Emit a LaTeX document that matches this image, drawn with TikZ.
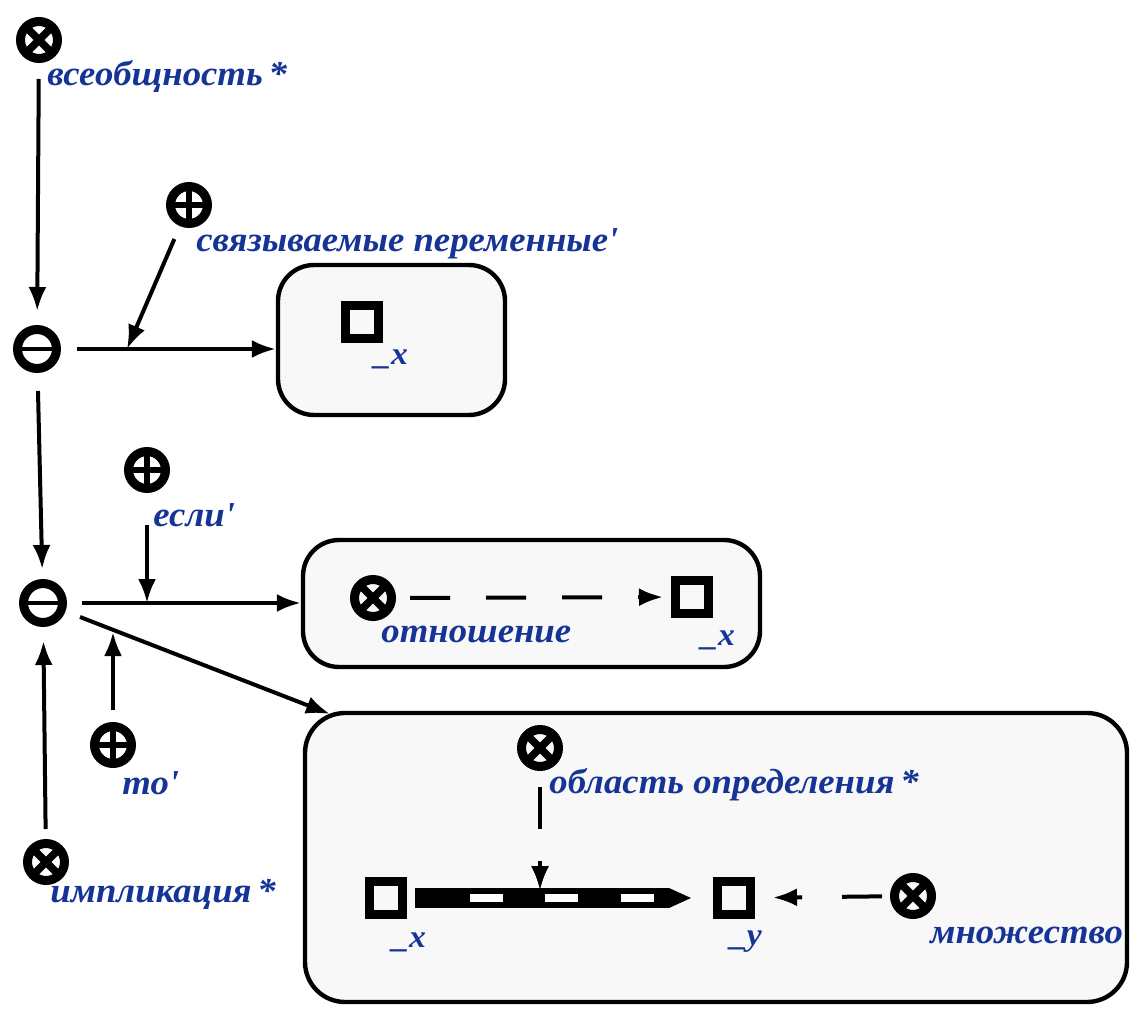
\documentclass[tikz,border=0pt]{standalone}
\usepackage{fontspec}
\setmainfont{Liberation Serif}
\newfontfamily\lblfont{Liberation Serif}[FakeStretch=1.05]
\usetikzlibrary{arrows.meta,calc}
\definecolor{lblblue}{RGB}{22,52,150}
\definecolor{boxfill}{RGB}{248,248,248}
\begin{document}
\begin{tikzpicture}[x=0.5pt,y=-0.5pt,
  conn/.style={line width=2pt,-{Latex[length=12pt,width=9pt]}},
  ring/.style={circle,draw,line width=4.5pt,minimum size=18.5pt,inner sep=0pt},
  xsign/.style={ring,path picture={\draw[line width=3.8pt]
      (path picture bounding box.north west) -- (path picture bounding box.south east)
      (path picture bounding box.north east) -- (path picture bounding box.south west);}},
  psign/.style={ring,path picture={\draw[line width=3pt]
      (path picture bounding box.north) -- (path picture bounding box.south)
      (path picture bounding box.east) -- (path picture bounding box.west);}},
  tsign/.style={ring,minimum size=19.5pt,path picture={\draw[line width=2pt]
      (path picture bounding box.east) -- (path picture bounding box.west);}},
  sq/.style={rectangle,draw,line width=4.5pt,minimum size=16.5pt,inner sep=0pt},
  lbl/.style={anchor=west,inner sep=0pt,text=lblblue,font=\lblfont\bfseries\itshape\fontsize{17.5}{20}\selectfont},
  var/.style={inner sep=0pt,text=lblblue,font=\lblfont\bfseries\itshape\fontsize{16}{18}\selectfont},
  rbox/.style={rectangle,rounded corners=18pt,draw,line width=2.2pt,fill=boxfill,inner sep=0pt}
]
\useasboundingbox (0,0) rectangle (1134,1010);

% frames
\node[rbox,minimum width=113.5pt,minimum height=75pt] (box1) at (391.5,340) {};
\node[rbox,minimum width=228.5pt,minimum height=63.5pt] (box2) at (531.5,603.5) {};
\node[rbox,minimum width=411pt,minimum height=144.5pt,rounded corners=20pt] (box3) at (716,857.5) {};

% outer column of nodes
\node[xsign] (A) at (39,40) {};
\node[lbl] (Al) at (47,76) {всеобщность\,*};
\node[tsign] (B) at (37,349) {};
\node[psign] (C) at (189,205) {};
\node[lbl] (Cl) at (196,244) {связываемые переменные'};
\node[tsign] (D) at (43,603) {};
\node[psign] (E) at (147,470) {};
\node[lbl] (El) at (153,515) {если'};
\node[psign] (F) at (113,745) {};
\node[lbl] (Fl) at (122,783) {то'};
\node[xsign] (G) at (46,862) {};
\node[lbl] (Gl) at (50,894) {импликация\,*};

% contents of the first frame
\node[sq] (s1) at (362,322) {};
\node[var] (s1l) at (391,359) {\_x};

% contents of the second frame
\node[xsign] (R) at (373,598) {};
\node[lbl] (Rl) at (381,634) {отношение};
\node[sq] (s2) at (692,597) {};
\node[var] (s2l) at (718,640) {\_x};

% contents of the third frame
\node[xsign] (O) at (540,748) {};
\node[lbl] (Ol) at (549,785) {область определения\,*};
\node[sq] (s3) at (386,898) {};
\node[var] (s3l) at (409,942) {\_x};
\node[sq] (s4) at (734,898) {};
\node[var] (s4l) at (746,942) {\_y};
\node[xsign] (M) at (913,896) {};
\node[lbl] (Ml) at (930,935) {множество};

% start and junction points of the connectors
\coordinate (bs) at ($(B)+(40,0)$);
\coordinate (ds) at ($(D)+(39,0)$);
\coordinate (dd) at ($(D)+(37,14)$);
\coordinate (j1) at (127,349);
\coordinate (j2) at (147,603);
\coordinate (j3) at (113,632);
\coordinate (b3) at (330,714);
\coordinate (jb) at (540,890);

% connectors
\draw[conn,shorten <=8pt,shorten >=7pt] (A) -- (B);
\draw[conn,shorten <=9pt,shorten >=5pt] (B) -- (D);
\draw[conn] (bs) -- (bs -| box1.west);
\draw[conn,shorten <=7pt] (C) -- (j1);
\draw[conn] (ds) -- (ds -| box2.west);
\draw[conn,shorten <=16pt] (E) -- (j2);
\draw[conn] (dd) -- (b3);
\draw[conn,shorten <=6pt] (F) -- (j3);
\draw[conn,shorten <=5pt,shorten >=7pt] (G) -- (D);

% dashed links inside the frames
\draw[conn,dash pattern=on 20pt off 18pt,shorten <=7pt,shorten >=4pt] (R) -- (s2);
\draw[conn,dash pattern=on 20pt off 20pt,shorten <=4pt,shorten >=9pt] (M) -- (s4);
\draw[conn,dash pattern=on 21pt off 16pt,shorten <=8pt] (O) -- (jb);

% striped link between the two variables
\fill ($(s3.east)+(8,-10)$) rectangle ($(s4.west)+(-44,10)$);
\fill ($(s4.west)+(-44,-10)$) -- ($(s4.west)+(-22,0)$) -- ($(s4.west)+(-44,10)$) -- cycle;
\foreach \xo in {470,545,621}
  \fill[white] (\xo,894) rectangle ++(33,8);
\draw[conn] ($(jb)+(0,-20)$) -- (jb);
\end{tikzpicture}
\end{document}
